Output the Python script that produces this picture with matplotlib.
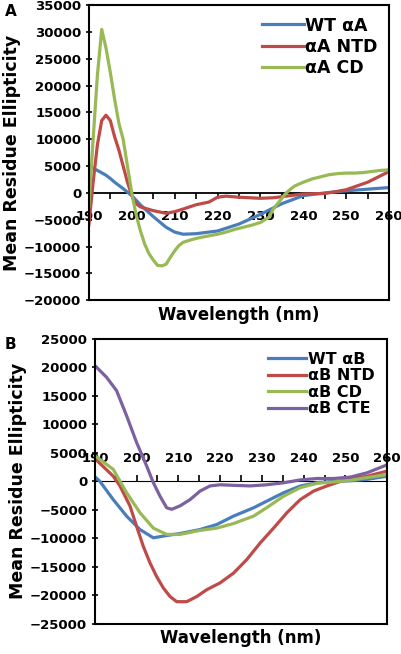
import matplotlib
matplotlib.use('Agg')
from matplotlib import pyplot as plt
from matplotlib.ticker import MultipleLocator

plt.rcParams['font.family'] = ['DejaVu Sans']
plt.rcParams['font.weight'] = 'bold'

# panel A data (wavelength nm, mean residue ellipticity)
wt_a_x = [190, 192, 194, 195, 196, 198, 200, 202, 205, 208, 210, 212, 215, 220, 225, 230, 235, 240, 245, 250, 255, 260]
wt_a_y = [5000, 4200, 3300, 2700, 2000, 800, -500, -2200, -4400, -6400, -7300, -7700, -7600, -7100, -5800, -4000, -2000, -500, 0, 400, 700, 1000]

ntd_a_x = [190, 191, 192, 193, 194, 195, 196, 197, 198, 199, 200, 201, 202, 205, 208, 210, 212, 215, 218, 220, 222, 225, 230, 233, 235, 240, 245, 248, 250, 255, 260]
ntd_a_y = [-6000, 2000, 9000, 13500, 14500, 13500, 10500, 8000, 5000, 2000, -500, -2000, -2600, -3300, -3800, -3500, -3000, -2200, -1700, -800, -600, -800, -1000, -900, -700, -200, -100, 300, 600, 2000, 4000]

cd_a_x = [190, 191, 192, 193, 194, 195, 196, 197, 198, 199, 200, 201, 202, 203, 204, 205, 206, 207, 208, 209, 210, 211, 212, 214, 216, 218, 220, 222, 224, 226, 228, 230, 232, 233, 234, 235, 236, 237, 238, 240, 242, 244, 246, 248, 250, 252, 254, 256, 258, 260]
cd_a_y = [-2500, 10000, 22000, 30500, 27000, 22500, 17500, 13000, 10000, 5000, 0, -4000, -7000, -9500, -11300, -12500, -13500, -13600, -13300, -12000, -10800, -9800, -9200, -8700, -8300, -8000, -7700, -7300, -6800, -6400, -6000, -5500, -4500, -3000, -2000, -1000, 0, 700, 1300, 2000, 2600, 3000, 3400, 3600, 3700, 3700, 3800, 4000, 4200, 4300]

# panel B data
wt_b_x = [190, 191.2, 194.4, 197.6, 200.8, 204, 207.2, 210.4, 215.2, 219.2, 223.2, 228, 231.2, 235.2, 239.2, 243.2, 247.2, 251.2, 255.2, 260]
wt_b_y = [800, 0, -3200, -6100, -8450, -9900, -9500, -9150, -8450, -7570, -6100, -4640, -3460, -2000, -820, -230, 0, 100, 350, 900]

ntd_b_x = [190, 194.4, 196, 198.4, 200, 201.6, 203.2, 204.8, 206.4, 208, 209.6, 212, 214.4, 216.8, 220, 223.2, 226.4, 229.6, 232.8, 236, 239.2, 242.4, 245.6, 248.8, 252, 255.2, 260]
ntd_b_y = [4000, 900, -800, -4300, -7900, -11400, -14300, -16700, -18700, -20200, -21100, -21100, -20200, -19000, -17800, -16100, -13700, -10800, -8200, -5500, -3200, -1700, -800, 0, 500, 900, 1800]

cd_b_x = [190, 194.4, 197.6, 200.8, 204, 207.2, 210.4, 215.2, 219.2, 223.2, 228, 231.2, 235.2, 239.2, 243.2, 247.2, 251.2, 255.2, 260]
cd_b_y = [4500, 2100, -2000, -5500, -8200, -9300, -9300, -8600, -8200, -7400, -6100, -4600, -2600, -1100, -350, -100, 200, 650, 1200]

cte_b_x = [190, 192.8, 195.2, 197.6, 200, 202.4, 204, 205.6, 207.2, 208.4, 210.4, 212.8, 215.2, 217.6, 220, 223.2, 227.2, 231.2, 235.2, 239.2, 243.2, 247.2, 251.2, 255.2, 260]
cte_b_y = [20300, 18250, 15900, 11500, 6800, 2700, -230, -2600, -4640, -4900, -4300, -3200, -1700, -800, -600, -700, -800, -600, -250, 250, 500, 500, 750, 1500, 2900]

blue = '#4a7ebb'
red = '#be4b48'
green = '#98b954'
purple = '#7d60a0'

fig = plt.figure(figsize=(4.02, 6.54), dpi=100)


def setup(ax, ymin, ymax, step):
    ax.set_xlim(190, 260)
    ax.set_ylim(ymin, ymax)
    ax.yaxis.set_major_locator(MultipleLocator(step))
    ax.tick_params(axis='y', direction='inout', length=5, width=1.2, labelsize=9.5, pad=3)
    ax.tick_params(axis='x', bottom=False, labelbottom=False)
    for s in ax.spines.values():
        s.set_linewidth(1.5)
    # x axis crosses at zero like the original
    sec = ax.secondary_xaxis((0 - ymin) / (ymax - ymin))
    sec.set_xticks(range(190, 261, 10))
    sec.xaxis.set_minor_locator(MultipleLocator(5))
    sec.tick_params(which='both', direction='out', length=4, width=1.2, labelsize=9.5, pad=8)
    sec.spines['bottom'].set_linewidth(1.3)
    ax.set_xlabel('Wavelength (nm)', fontsize=12, fontweight='bold', labelpad=4)
    ax.set_ylabel('Mean Residue Ellipticity', fontsize=12.5, fontweight='bold', labelpad=2)


axA = fig.add_axes([0.221, 0.541, 0.747, 0.451])
axA.plot(wt_a_x, wt_a_y, color=blue, lw=2.3, label='WT αA')
axA.plot(ntd_a_x, ntd_a_y, color=red, lw=2.3, label='αA NTD')
axA.plot(cd_a_x, cd_a_y, color=green, lw=2.3, label='αA CD')
setup(axA, -20000, 35000, 5000)
axA.legend(loc='upper right', bbox_to_anchor=(1.0, 1.0), frameon=False, fontsize=12.5,
           handlelength=2.4, handletextpad=0.1, labelspacing=0.2, borderaxespad=0.25)
fig.text(0.012, 0.982, 'A', fontsize=11, fontweight='bold', ha='left', va='center')

axB = fig.add_axes([0.236, 0.046, 0.727, 0.436])
axB.plot(wt_b_x, wt_b_y, color=blue, lw=2.3, label='WT αB')
axB.plot(ntd_b_x, ntd_b_y, color=red, lw=2.3, label='αB NTD')
axB.plot(cd_b_x, cd_b_y, color=green, lw=2.3, label='αB CD')
axB.plot(cte_b_x, cte_b_y, color=purple, lw=2.3, label='αB CTE')
setup(axB, -25000, 25000, 5000)
axB.legend(loc='upper right', bbox_to_anchor=(1.0, 1.0), frameon=False, fontsize=11.5,
           handlelength=2.4, handletextpad=0.1, labelspacing=0.1, borderaxespad=0.4)
fig.text(0.012, 0.474, 'B', fontsize=11, fontweight='bold', ha='left', va='center')

fig.savefig('out.png', dpi=100)
